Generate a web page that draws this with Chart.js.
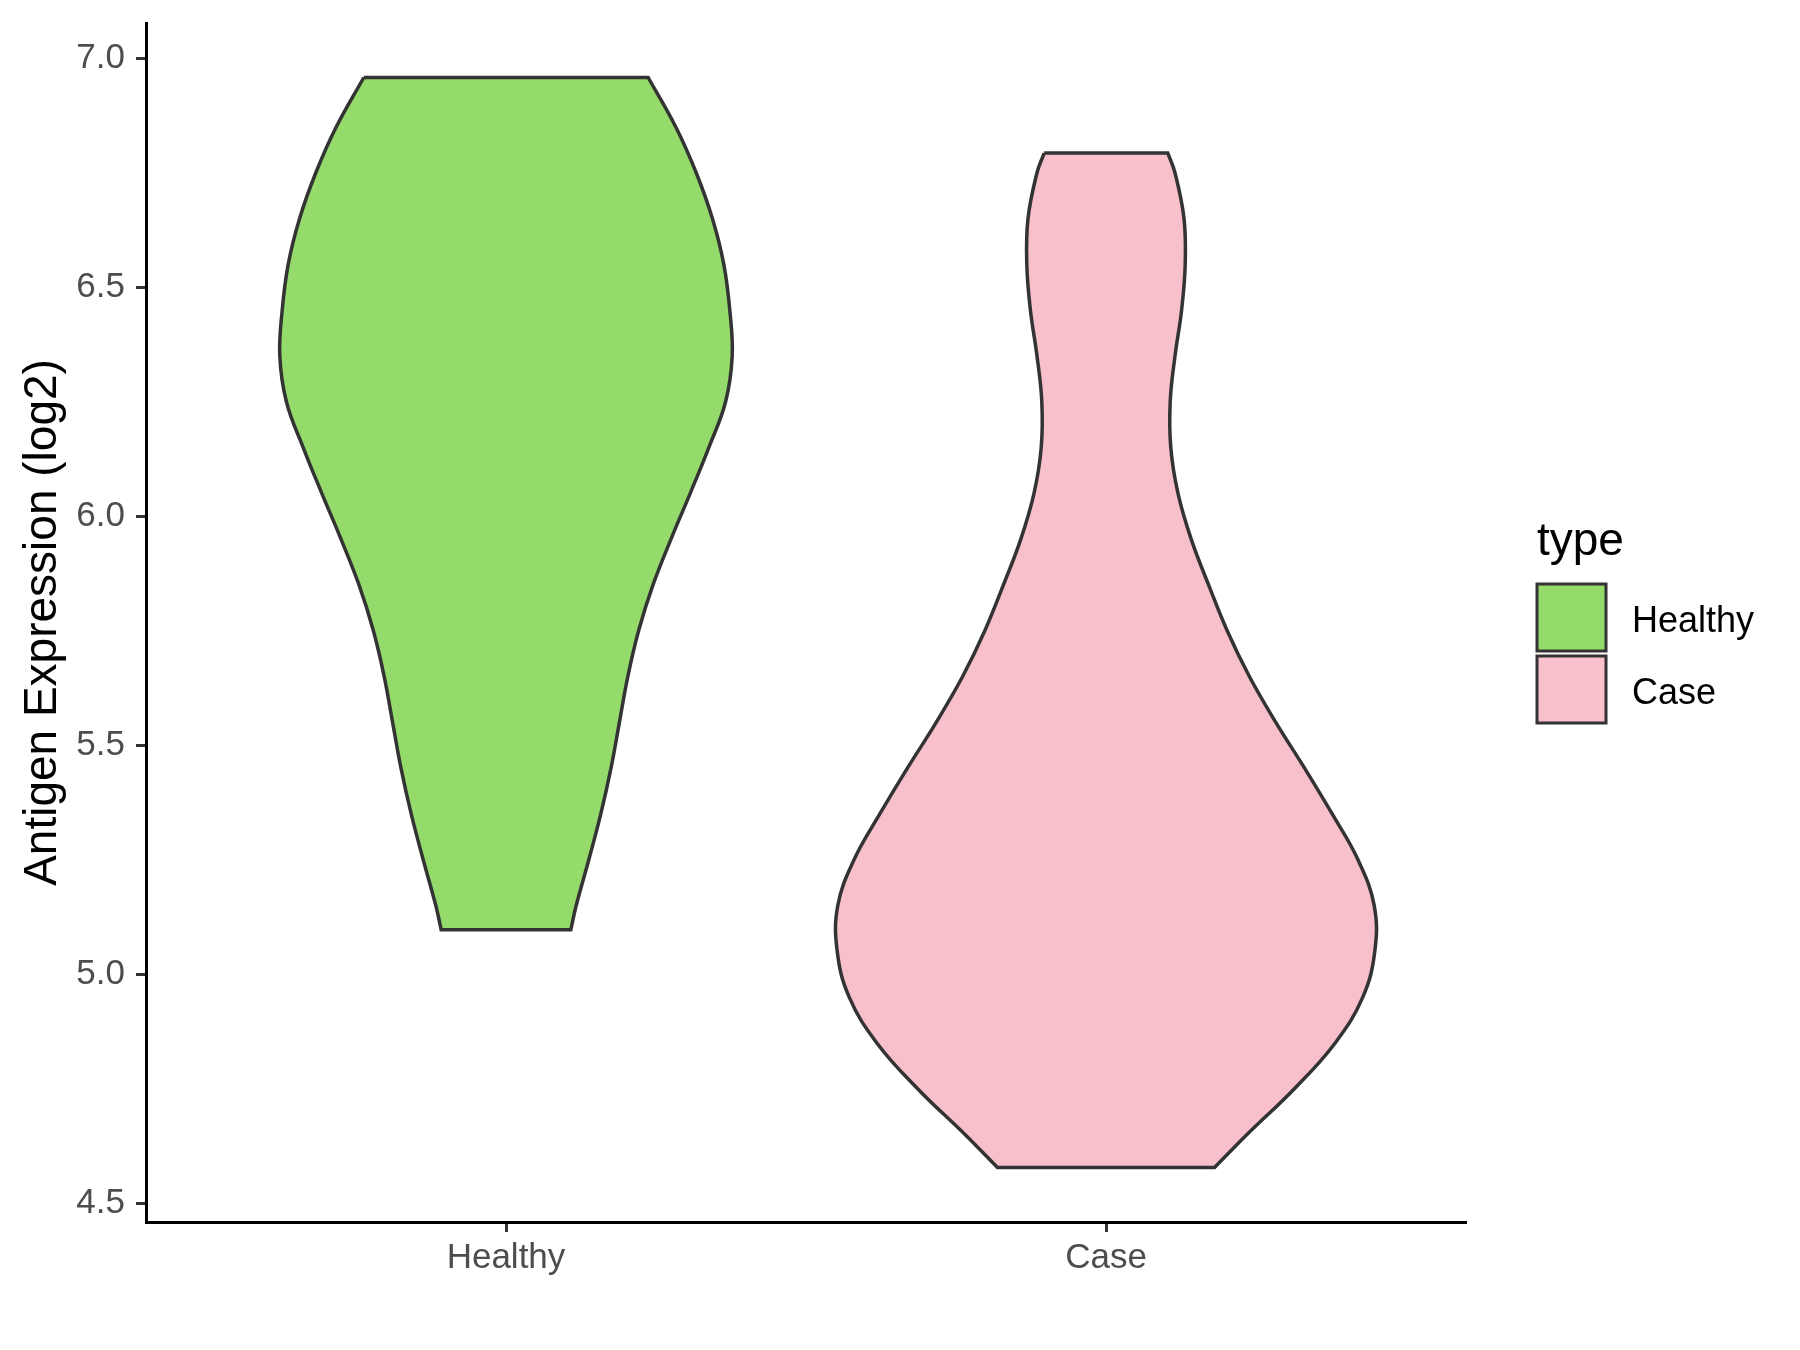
<!DOCTYPE html>
<html>
<head>
<meta charset="utf-8">
<title>Antigen Expression violin</title>
<script src="https://cdn.jsdelivr.net/npm/chart.js@4.4.1/dist/chart.umd.min.js"></script>
<style>
  html, body { margin: 0; padding: 0; background: #fff; }
  #wrap { width: 1800px; height: 1350px; }
</style>
</head>
<body>
<div id="wrap"><canvas id="violinChart" width="1800" height="1350"></canvas></div>
<script>
// categories on the x axis
var categories = ['Healthy', 'Case'];
var fillColors = ['#94DB6B', '#F7C0CB'];
var yTicks     = [4.5, 5.0, 5.5, 6.0, 6.5, 7.0];

// violin outlines: expression level (log2) and half width (x units), top to bottom
var healthyExpr  = [6.958, 6.85, 6.75, 6.65, 6.55, 6.45, 6.35, 6.25, 6.15, 6.05, 5.95, 5.85, 5.75,
                    5.65, 5.55, 5.45, 5.35, 5.25, 5.15, 5.097];
var healthyWidth = [0.237, 0.283, 0.317, 0.344, 0.363, 0.373, 0.377, 0.366, 0.338, 0.307, 0.275, 0.245, 0.221,
                    0.203, 0.189, 0.175, 0.158, 0.138, 0.117, 0.108];

var caseExpr  = [6.793, 6.75, 6.65, 6.55, 6.45, 6.35, 6.25, 6.15, 6.05, 5.95, 5.85, 5.75, 5.65, 5.55,
                 5.45, 5.35, 5.25, 5.15, 5.05, 4.95, 4.85, 4.75, 4.65, 4.578];
var caseWidth = [0.103, 0.115, 0.130, 0.132, 0.126, 0.115, 0.107, 0.108, 0.120, 0.142, 0.171, 0.202, 0.239, 0.283,
                 0.331, 0.377, 0.420, 0.447, 0.448, 0.428, 0.382, 0.314, 0.235, 0.181];

// closed outline: left side down, right side up, corners doubled so the spline keeps them sharp
function violinOutline(center, expr, width) {
    var pts = [];
    var n = expr.length;
    for (var i = 0; i < n; i++) {
        pts.push({x: center - width[i], y: expr[i]});
        if (i === 0 || i === n - 1) pts.push({x: center - width[i], y: expr[i]});
    }
    for (var j = n - 1; j >= 0; j--) {
        pts.push({x: center + width[j], y: expr[j]});
        if (j === 0 || j === n - 1) pts.push({x: center + width[j], y: expr[j]});
    }
    pts.push({x: center - width[0], y: expr[0]});
    return pts;
}

var allExpr = healthyExpr.concat(caseExpr);
var yLo = Math.min.apply(null, allExpr), yHi = Math.max.apply(null, allExpr);
var yPad = (yHi - yLo) * 0.05;

var fontFamily = '"Liberation Sans", Arial, sans-serif';

// legend drawn on the right, ggplot style
var sideLegend = {
    id: 'sideLegend',
    afterDraw: function(chart) {
        var ctx = chart.ctx;
        var x0 = chart.chartArea.right + 71;
        ctx.save();
        ctx.fillStyle = '#000';
        ctx.font = '46px ' + fontFamily;
        ctx.textAlign = 'left';
        ctx.textBaseline = 'alphabetic';
        ctx.fillText('type', x0, 555);
        for (var i = 0; i < categories.length; i++) {
            var top = 584 + i * 72;
            ctx.fillStyle = fillColors[i];
            ctx.fillRect(x0, top, 69, 67);
            ctx.lineWidth = 3;
            ctx.strokeStyle = '#333333';
            ctx.strokeRect(x0, top, 69, 67);
            ctx.fillStyle = '#000';
            ctx.font = '36px ' + fontFamily;
            ctx.textBaseline = 'middle';
            ctx.fillText(categories[i], x0 + 95, top + 38);
        }
        ctx.restore();
    }
};

var ctx = document.getElementById('violinChart').getContext('2d');
var violinChart = new Chart(ctx, {
    type: 'scatter',
    data: {
        datasets: [
            {
                label: categories[0],
                data: violinOutline(1, healthyExpr, healthyWidth),
                showLine: true,
                fill: 'shape',
                backgroundColor: fillColors[0],
                borderColor: '#333333',
                borderWidth: 3.5,
                tension: 0.4,
                pointRadius: 0
            },
            {
                label: categories[1],
                data: violinOutline(2, caseExpr, caseWidth),
                showLine: true,
                fill: 'shape',
                backgroundColor: fillColors[1],
                borderColor: '#333333',
                borderWidth: 3.5,
                tension: 0.4,
                pointRadius: 0
            }
        ]
    },
    options: {
        responsive: false,
        animation: false,
        devicePixelRatio: 1,
        layout: { padding: { top: 23, right: 334, left: 0, bottom: 0 } },
        plugins: {
            legend: { display: false },
            tooltip: { enabled: false }
        },
        scales: {
            x: {
                type: 'linear',
                min: 0.4,
                max: 2.6,
                afterFit: function(scale) {
                    scale.height = 128;
                    scale.paddingLeft = 0;
                    scale.paddingRight = 0;
                },
                afterBuildTicks: function(scale) {
                    scale.ticks = categories.map(function(c, i) { return {value: i + 1}; });
                },
                ticks: {
                    callback: function(value) { return categories[value - 1]; },
                    color: '#4D4D4D',
                    font: { family: fontFamily, size: 35 },
                    padding: 5,
                    maxRotation: 0
                },
                grid: {
                    drawOnChartArea: false,
                    tickLength: 10,
                    tickColor: '#333333',
                    tickWidth: 3
                },
                border: { display: true, color: '#000000', width: 3 }
            },
            y: {
                type: 'linear',
                min: yLo - yPad,
                max: yHi + yPad,
                afterFit: function(scale) {
                    scale.width = 146;
                    scale.paddingTop = 0;
                    scale.paddingBottom = 0;
                },
                afterBuildTicks: function(scale) {
                    scale.ticks = yTicks.map(function(v) { return {value: v}; });
                },
                ticks: {
                    callback: function(value) { return value.toFixed(1); },
                    color: '#4D4D4D',
                    font: { family: fontFamily, size: 35 },
                    padding: 11
                },
                grid: {
                    drawOnChartArea: false,
                    tickLength: 10,
                    tickColor: '#333333',
                    tickWidth: 3
                },
                border: { display: true, color: '#000000', width: 3 },
                title: {
                    display: true,
                    text: 'Antigen Expression (log2)',
                    color: '#000',
                    font: { family: fontFamily, size: 46 },
                    padding: { top: 16, bottom: 0 }
                }
            }
        }
    },
    plugins: [sideLegend]
});
</script>
</body>
</html>
